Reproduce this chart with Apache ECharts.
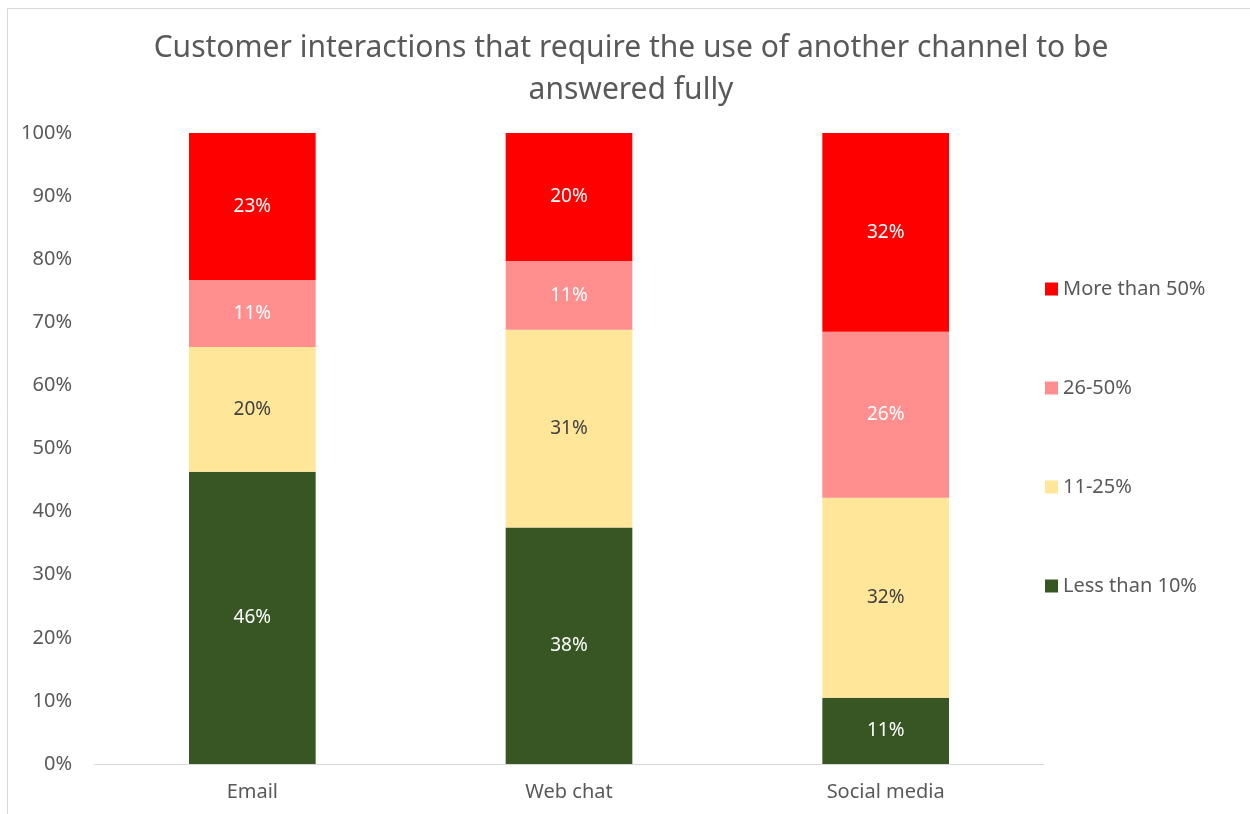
<!DOCTYPE html>
<html lang="en" style="height: 100%">
<head>
    <meta charset="utf-8">
</head>
<body style="height: 100%; margin: 0">
<div id="container" style="width: 1250px; height: 814px"></div>

<script type="text/javascript" src="https://fastly.jsdelivr.net/npm/echarts@6/dist/echarts.min.js"></script>
<script type="text/javascript">
    // 数据
    var categories = ['Email', 'Web chat', 'Social media'];
    var lessThan10 = [46.3, 37.5, 10.5];
    var from11to25 = [19.8, 31.3, 31.7];
    var from26to50 = [10.6, 10.9, 26.3];
    var moreThan50 = [23.3, 20.3, 31.5];
    var yTicks = [0, 10, 20, 30, 40, 50, 60, 70, 80, 90, 100];

    var font = 'Noto Sans';
    var grey = '#595959';

    var dom = document.getElementById('container');
    var myChart = echarts.init(dom, null, { renderer: 'canvas' });

    function bar(name, data, color, labelColor) {
        return {
            name: name,
            type: 'bar',
            stack: 'total',
            barWidth: '40%',
            data: data,
            itemStyle: { color: color },
            label: {
                show: true,
                position: 'inside',
                color: labelColor,
                fontFamily: font,
                fontSize: 19,
                formatter: function (p) {
                    return Math.round(p.value) + '%';
                }
            }
        };
    }

    var option = {
        animation: false,
        textStyle: { fontFamily: font },
        graphic: [{
            type: 'rect',
            shape: { x: 7.5, y: 8.5, width: 1400, height: 1000 },
            style: { fill: 'none', stroke: '#d9d9d9', lineWidth: 1 },
            silent: true
        }],
        title: {
            text: 'Customer interactions that require the use of another channel to be\nanswered fully',
            left: 626,
            textAlign: 'center',
            top: 22,
            textStyle: {
                color: grey,
                fontSize: 30,
                fontWeight: 'normal',
                fontFamily: font,
                lineHeight: 42
            }
        },
        legend: {
            orient: 'vertical',
            left: 1040,
            top: 274,
            itemWidth: 13,
            itemHeight: 13,
            itemGap: 79,
            icon: 'rect',
            textStyle: { color: grey, fontSize: 20, fontFamily: font },
            data: ['More than 50%', '26-50%', '11-25%', 'Less than 10%']
        },
        grid: {
            left: 94,
            right: 206,
            top: 133,
            bottom: 50
        },
        xAxis: {
            type: 'category',
            data: categories,
            axisLine: { lineStyle: { color: '#d9d9d9', width: 1 } },
            axisTick: { show: false },
            axisLabel: { color: grey, fontSize: 20, fontFamily: font, margin: 18 }
        },
        yAxis: {
            type: 'value',
            min: yTicks[0],
            max: yTicks[yTicks.length - 1],
            interval: 10,
            splitLine: { show: false },
            axisLine: { show: false },
            axisTick: { show: false },
            axisLabel: {
                color: grey,
                fontSize: 20,
                fontFamily: font,
                margin: 22,
                formatter: '{value}%'
            }
        },
        series: [
            bar('Less than 10%', lessThan10, '#375623', '#ffffff'),
            bar('11-25%', from11to25, '#FFE699', '#404040'),
            bar('26-50%', from26to50, '#FF8F8F', '#ffffff'),
            bar('More than 50%', moreThan50, '#FF0000', '#ffffff')
        ]
    };

    myChart.setOption(option);
    window.addEventListener('resize', myChart.resize);
</script>
</body>
</html>
